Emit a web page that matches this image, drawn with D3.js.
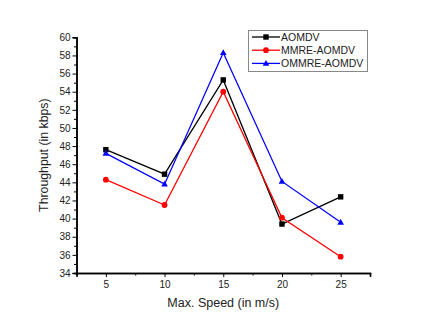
<!DOCTYPE html>
<html><head><meta charset="utf-8">
<script src="https://cdn.jsdelivr.net/npm/d3@7/dist/d3.min.js"></script>
<style>body{margin:0;background:#fff;}svg{display:block;font-family:"Liberation Sans",Arial,sans-serif;}</style>
</head><body><svg id="c" width="429" height="328"></svg>
<script>
const speeds = [5, 10, 15, 20, 25];
const aomdv = [47.6, 44.9, 55.3, 39.4, 42.4];
const mmre = [44.3, 41.5, 54.0, 40.1, 35.8];
const ommre = [47.2, 43.8, 58.3, 44.1, 39.6];
const seriesNames = ["AOMDV", "MMRE-AOMDV", "OMMRE-AOMDV"];
const seriesColors = ["#000000", "#ff0000", "#0000ff"];
const seriesShapes = ["square", "circle", "triangle"];
const yTicks = [34, 36, 38, 40, 42, 44, 46, 48, 50, 52, 54, 56, 58, 60];
const xTicks = [5, 10, 15, 20, 25];

const svg = d3.select("#c");
const x = d3.scaleLinear().domain([2.5, 27.5]).range([76.5, 370]);
const y = d3.scaleLinear().domain([34, 60]).range([273, 37.3]);

// axes
const yAxis = d3.axisLeft(y).tickValues(yTicks).tickSize(4).tickPadding(2).tickFormat(d3.format("d"));
svg.append("g").attr("transform", `translate(${x(2.5)},0)`).call(yAxis);
const yMinor = d3.axisLeft(y).tickValues(d3.range(35, 60, 2)).tickSize(2.5).tickFormat("");
svg.append("g").attr("transform", `translate(${x(2.5)},0)`).call(yMinor);

const xAxis = d3.axisBottom(x).tickValues(xTicks).tickSize(4).tickPadding(4);
svg.append("g").attr("transform", `translate(0,${y(34)})`).call(xAxis);
const xMinor = d3.axisBottom(x).tickValues([7.5, 12.5, 17.5, 22.5, 27.5]).tickSize(2.5).tickFormat("");
svg.append("g").attr("transform", `translate(0,${y(34)})`).call(xMinor);

svg.selectAll(".domain").attr("stroke", "#000").attr("stroke-width", 1.5);
svg.selectAll(".tick line").attr("stroke", "#000").attr("stroke-width", 1);
svg.selectAll(".tick text").attr("font-size", 10).attr("fill", "#222").attr("font-family", "Liberation Sans, Arial, sans-serif");

// titles
svg.append("text").attr("transform", `translate(48,${(y(34)+y(60))/2}) rotate(-90)`)
  .attr("text-anchor", "middle").attr("font-size", 12.3).attr("fill", "#222").text("Throughput (in kbps)");
svg.append("text").attr("x", (x(2.5)+x(27.5))/2).attr("y", 307).attr("text-anchor", "middle")
  .attr("font-size", 12.5).attr("fill", "#222").text("Max. Speed (in m/s)");

const allSeries = [aomdv, mmre, ommre];
function marker(g, shape, color, cx, cy) {
  if (shape === "square") g.append("rect").attr("x", cx-2.7).attr("y", cy-2.7).attr("width", 5.4).attr("height", 5.4).attr("fill", color);
  else if (shape === "circle") g.append("circle").attr("cx", cx).attr("cy", cy).attr("r", 2.9).attr("fill", color);
  else g.append("path").attr("d", `M${cx},${cy-3.5}L${cx+3.3},${cy+2.4}L${cx-3.3},${cy+2.4}Z`).attr("fill", color);
}
const line = d3.line().x(d => x(d[0])).y(d => y(d[1]));
allSeries.forEach((vals, i) => {
  const pts = speeds.map((s, j) => [s, vals[j]]);
  svg.append("path").attr("d", line(pts)).attr("fill", "none").attr("stroke", seriesColors[i]).attr("stroke-width", 1.3);
});
allSeries.forEach((vals, i) => {
  const g = svg.append("g");
  speeds.forEach((s, j) => marker(g, seriesShapes[i], seriesColors[i], x(s), y(vals[j])));
});

// legend
const lg = svg.append("g");
lg.append("rect").attr("x", 248.5).attr("y", 30.5).attr("width", 119).attr("height", 41)
  .attr("fill", "#fff").attr("stroke", "#888").attr("stroke-width", 1);
seriesNames.forEach((n, i) => {
  const yy = 37 + i * 13.2;
  lg.append("line").attr("x1", 252).attr("x2", 280).attr("y1", yy).attr("y2", yy)
    .attr("stroke", seriesColors[i]).attr("stroke-width", 1.3);
  marker(lg, seriesShapes[i], seriesColors[i], 266, yy);
  lg.append("text").attr("x", 281).attr("y", yy + 3.8).attr("font-size", 10.5).attr("fill", "#222").text(n);
});
</script></body></html>
